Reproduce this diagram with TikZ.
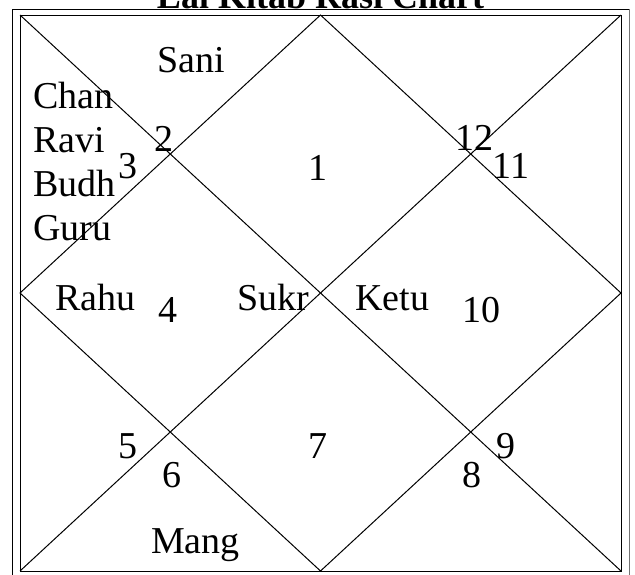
\documentclass[tikz,border=0pt]{standalone}
\usepackage{fontspec}
\setmainfont{Liberation Serif}
\begin{document}
\begin{tikzpicture}[x=1pt,y=-1pt,
  chartline/.style={draw=black,line width=1pt},
  framegray/.style={draw=black!55,line width=1pt},
  planet/.style={anchor=base west,inner sep=0pt,font=\fontsize{38}{44}\selectfont},
  house/.style={anchor=base,inner sep=0pt,font=\fontsize{38}{44}\selectfont},
  titlestyle/.style={anchor=base,inner sep=0pt,font=\fontsize{36}{40}\selectfont\bfseries}]
\useasboundingbox (0,0) rectangle (635,574);
\fill[white] (0,0) rectangle (635,574);
% corners of the chart
\coordinate (tl) at (20,15);
\coordinate (tr) at (621,15);
\coordinate (br) at (621,571);
\coordinate (bl) at (20,571);
\coordinate (tm) at (320.5,15);
\coordinate (rm) at (621,293);
\coordinate (bm) at (320.5,571);
\coordinate (lm) at (20,293);
% outer frame
\coordinate (otl) at (12,9);
\coordinate (otr) at (629,9);
\coordinate (obl) at (12,590);
\coordinate (obr) at (629,590);
\draw[chartline] (obl) -- (otl) -- (otr);
\draw[framegray] (otr) -- (obr);
% title
\node[titlestyle] (title) at (320.5,8) {Lal Kitab Rasi Chart};
% inner chart
\draw[chartline] (tl) -- (tr) -- (br) -- (bl) -- cycle;
\draw[chartline] (tl) -- (br);
\draw[chartline] (tr) -- (bl);
\draw[chartline] (tm) -- (rm) -- (bm) -- (lm) -- cycle;
% house numbers
\node[house] (h1) at (318,180) {1};
\node[house] (h2) at (164,151) {2};
\node[house] (h3) at (128,178) {3};
\node[house] (h4) at (168,322) {4};
\node[house] (h5) at (128,458) {5};
\node[house] (h6) at (172,487) {6};
\node[house] (h7) at (318,458) {7};
\node[house] (h8) at (472,487) {8};
\node[house] (h9) at (506,458) {9};
\node[house] (h10) at (481,322) {10};
\node[house] (h11) at (511,178) {11};
\node[house] (h12) at (474,150) {12};
% planets
\node[planet] (sani) at (157,72) {Sani};
\node[planet] (chan) at (33,108) {Chan};
\node[planet] (ravi) at (33,152) {Ravi};
\node[planet] (budh) at (33,196) {Budh};
\node[planet] (guru) at (33,240) {Guru};
\node[planet] (rahu) at (55,310) {Rahu};
\node[planet] (sukr) at (237,310) {Sukr};
\node[planet] (ketu) at (355,310) {Ketu};
\node[planet] (mang) at (151,553) {Mang};
\end{tikzpicture}
\end{document}
